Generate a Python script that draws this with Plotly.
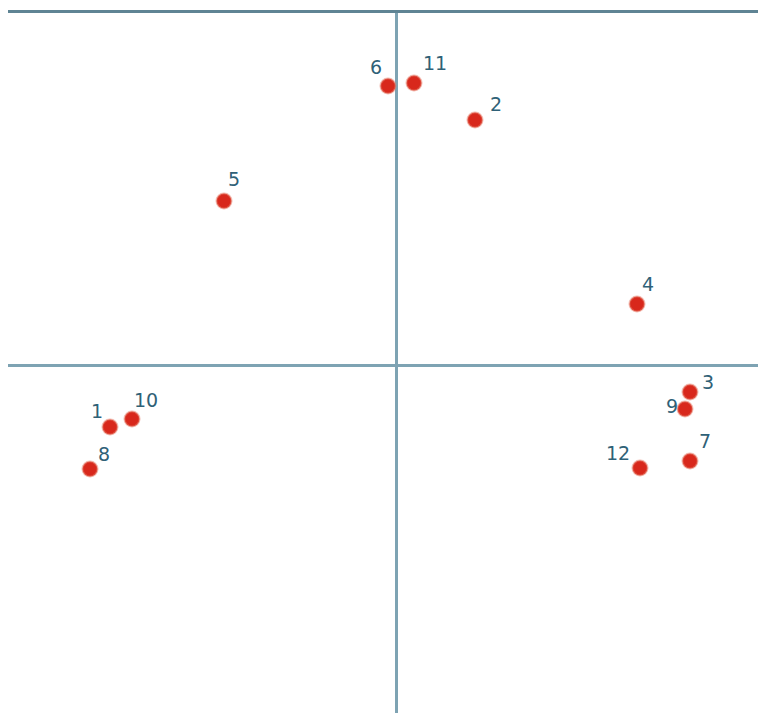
import plotly.graph_objects as go

labels = ["1", "2", "3", "4", "5", "6", "7", "8", "9", "10", "11", "12"]
x_vals = [-2.86, 0.79, 2.94, 2.41, -1.72, -0.08, 2.94, -3.06, 2.89, -2.64, 0.18, 2.44]
y_vals = [-0.62, 2.45, -0.27, 0.61, 1.64, 2.79, -0.96, -1.04, -0.44, -0.54, 2.82, -1.03]

# label offsets in pixels (style only)
label_offsets = {
    "1": (-13, 16), "2": (21, 16), "3": (18, 10), "4": (11, 20),
    "5": (10, 22), "6": (-12, 19), "7": (15, 20), "8": (14, 15),
    "9": (-13, 3), "10": (14, 19), "11": (21, 20), "12": (-22, 15),
}

axis_col = "#7ea3b3"
text_col = "#2f6177"

fig = go.Figure()
fig.add_trace(go.Scatter(
    x=x_vals, y=y_vals, mode="markers",
    marker=dict(size=15, color="#d8281c", line=dict(width=2, color="rgba(230,120,100,0.5)")),
    hoverinfo="skip", showlegend=False,
))

for lab, xv, yv in zip(labels, x_vals, y_vals):
    dx, dy = label_offsets[lab]
    fig.add_annotation(x=xv, y=yv, text=lab, showarrow=False,
                       xshift=dx, yshift=dy,
                       font=dict(family="DejaVu Sans", size=19, color=text_col))

fig.update_layout(
    width=758, height=705,
    margin=dict(l=0, r=0, t=5, b=0),
    paper_bgcolor="white", plot_bgcolor="white",
    xaxis=dict(range=[-3.88, 3.70], side="top", showline=True, linecolor="#5f8494", linewidth=3,
               showgrid=False, zeroline=True, zerolinecolor=axis_col, zerolinewidth=3,
               showticklabels=False, ticks="", fixedrange=True),
    yaxis=dict(range=[-3.48, 3.52], showline=True, linecolor="#5f8494", linewidth=3,
               showgrid=False, zeroline=True, zerolinecolor=axis_col, zerolinewidth=3,
               showticklabels=False, ticks="", fixedrange=True),
)

fig.write_html("out.html")
